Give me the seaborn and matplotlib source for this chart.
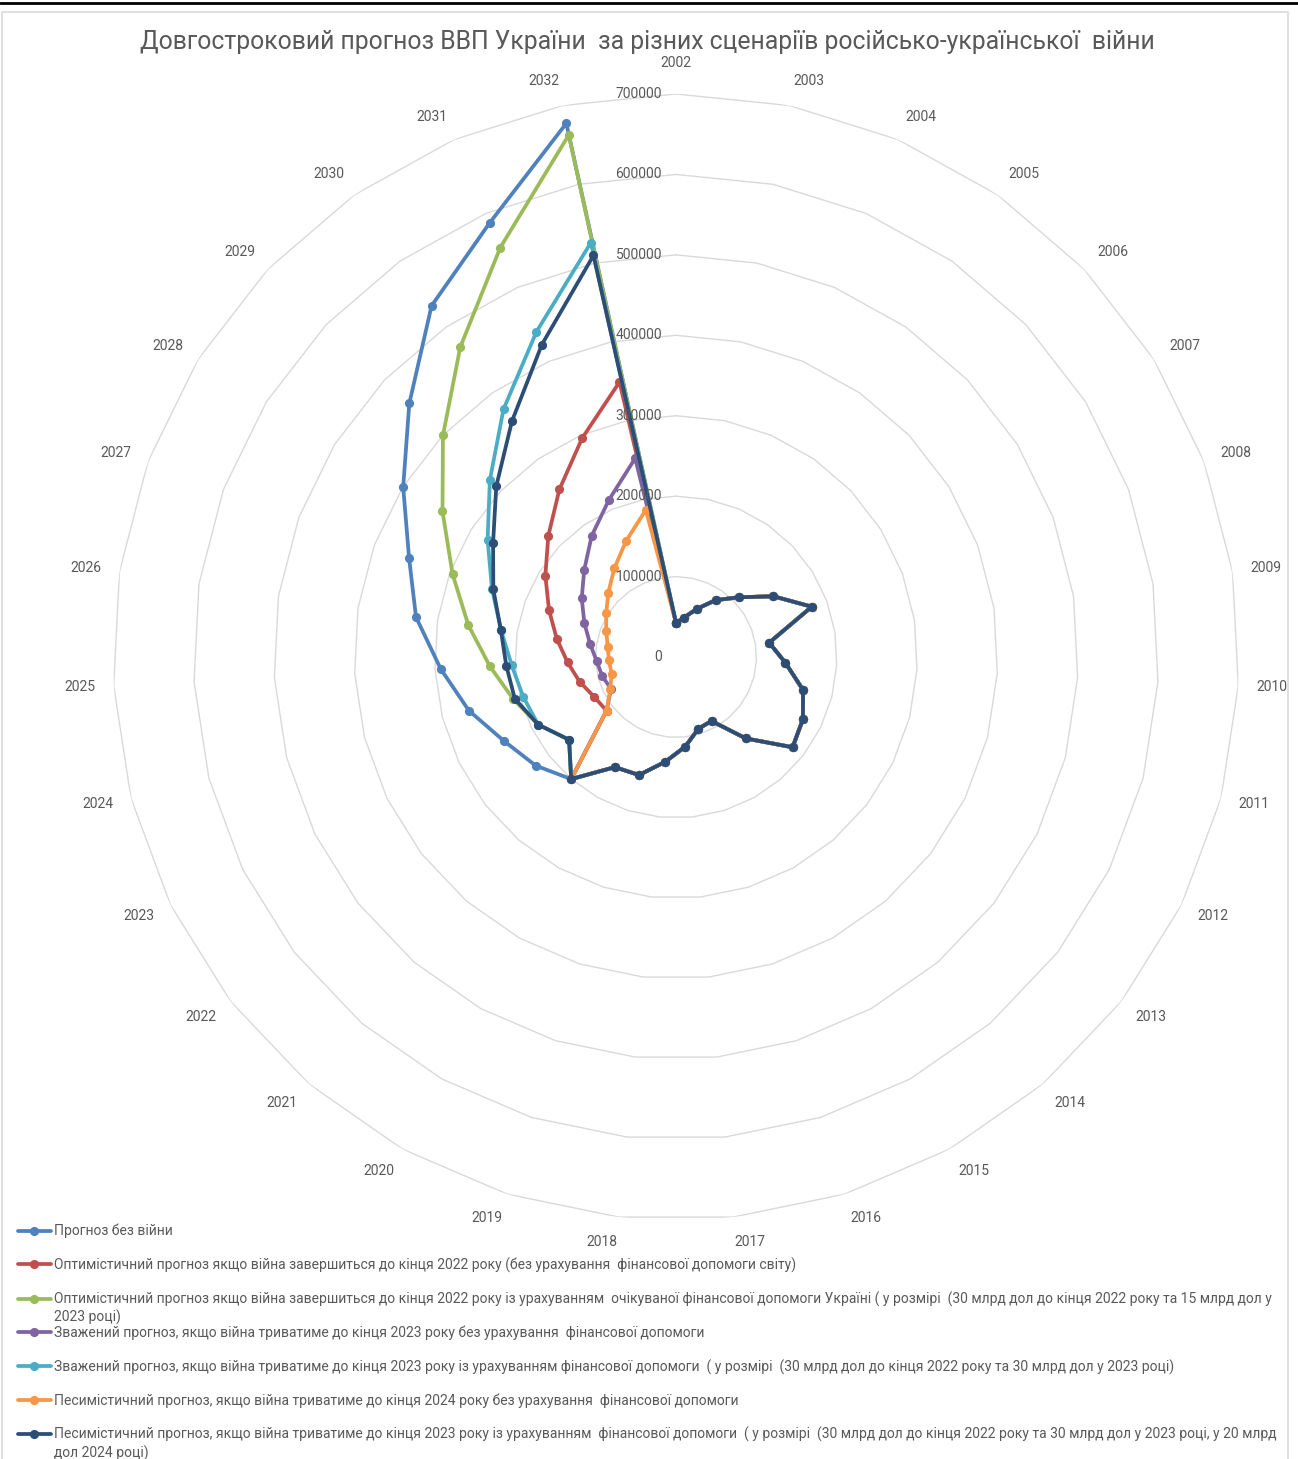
import numpy as np
import pandas as pd
import matplotlib
matplotlib.use("Agg")
import matplotlib.pyplot as plt
import matplotlib.transforms as mtransforms
from matplotlib.lines import Line2D
import seaborn as sns

# ---------------- data ----------------
years = [str(y) for y in range(2002, 2033)]

history = [42393, 50133, 64883, 86142, 107753, 142719, 179992, 117228, 136011,
           163160, 175781, 183310, 133503, 91031, 93356, 112154, 130891, 153781,
           156618, 200086]

no_war = [220600, 237800, 266000, 292900, 327000, 353900, 399700, 457500, 532000, 587400, 677400]
optimistic = [109200, 113000, 123600, 134900, 150000, 168400, 191400, 219000, 253800, 296000, 349000]
optimistic_aid = [168100, 190900, 209000, 231600, 261200, 296200, 342100, 399800, 469500, 554000, 662500]
weighted = [109200, 90000, 94800, 98800, 108100, 121500, 138100, 157400, 183500, 212100, 252200]
weighted_aid = [168100, 190900, 196300, 204500, 220000, 244000, 276000, 319300, 375400, 440000, 525900]
pessimistic = [109200, 91000, 82700, 83500, 85900, 92500, 102300, 116100, 134300, 157200, 186600]
pessimistic_aid = [168100, 190900, 207000, 211300, 220300, 242200, 268000, 308300, 357100, 422800, 509700]

series_names = [
    "Прогноз без війни",
    "Оптимістичний прогноз якщо війна завершиться до кінця 2022 року (без урахування  фінансової допомоги світу)",
    "Оптимістичний прогноз якщо війна завершиться до кінця 2022 року із урахуванням  очікуваної фінансової допомоги Україні ( у розмірі  (30 млрд дол до кінця 2022 року та 15 млрд дол у",
    "Зважений прогноз, якщо війна триватиме до кінця 2023 року без урахування  фінансової допомоги",
    "Зважений прогноз, якщо війна триватиме до кінця 2023 року із урахуванням фінансової допомоги  ( у розмірі  (30 млрд дол до кінця 2022 року та 30 млрд дол у 2023 році)",
    "Песимістичний прогноз, якщо війна триватиме до кінця 2024 року без урахування  фінансової допомоги",
    "Песимістичний прогноз, якщо війна триватиме до кінця 2023 року із урахуванням  фінансової допомоги  ( у розмірі  (30 млрд дол до кінця 2022 року та 30 млрд дол у 2023 році, у 20 млрд",
]
continuations = {2: "2023 році)", 6: "дол 2024 році)"}
forecasts = [no_war, optimistic, optimistic_aid, weighted, weighted_aid, pessimistic, pessimistic_aid]
colors = ["#4F81BD", "#C0504D", "#9BBB59", "#8064A2", "#4BACC6", "#F79646", "#2C4D75"]

radial_ticks = [0, 100000, 200000, 300000, 400000, 500000, 600000, 700000]
title = "Довгостроковий прогноз ВВП України  за різних сценаріїв російсько-української  війни"

# ---------------- styling ----------------
sns.set_theme(style="white")
plt.rcParams["font.family"] = ["Roboto", "DejaVu Sans"]
TXT = "#595959"

W, H = 1298, 1459
fig = plt.figure(figsize=(W / 100, H / 100), dpi=100)
fig.patch.set_facecolor("white")

cx, cy, R = 676, 657, 563
ax = fig.add_axes([(cx - R) / W, 1 - (cy + R) / H, 2 * R / W, 2 * R / H], projection="polar")
ax.set_theta_zero_location("N")
ax.set_theta_direction(-1)
ax.set_facecolor("none")
ax.grid(False)
ax.spines["polar"].set_visible(False)
ax.set_xticks([])
ax.set_yticks([])
rmax = radial_ticks[-1]
ax.set_ylim(0, rmax)

n = len(years)
angles = [2 * np.pi * i / n for i in range(n)]
closed = angles + [2 * np.pi]

# polygon gridlines
for r in radial_ticks[1:]:
    ax.plot(closed, [r] * (n + 1), color="#d9d9d9", lw=1.0, zorder=1)
n_grid = len(ax.get_lines())

# long-form data
rows = []
for name, fc in zip(series_names, forecasts):
    vals = history + fc
    vals = vals + [vals[0]]
    for k, (t, v) in enumerate(zip(closed, vals)):
        rows.append({"series": name, "theta": t, "value": v, "order": k})
df = pd.DataFrame(rows)

sns.lineplot(data=df, x="theta", y="value", hue="series", hue_order=series_names,
             palette=dict(zip(series_names, colors)), estimator=None, sort=False,
             marker="o", markersize=6.6, markeredgewidth=0, linewidth=2.7,
             legend=False, ax=ax, zorder=3)
ax.set_xlabel("")
ax.set_ylabel("")
ax.set_ylim(0, rmax)

# category labels (anchored by nearest corner, as in Excel)
r_lab = rmax * 581 / R
for t, y in zip(angles, years):
    s, c = np.sin(t), np.cos(t)
    ha = "center" if abs(s) < 0.02 else ("left" if s > 0 else "right")
    extra = 6 if abs(s) < 0.02 else 0
    off_l = mtransforms.ScaledTranslation(0, (c * 7 + extra) / 100, fig.dpi_scale_trans)
    ax.text(t, r_lab, y, ha=ha, va="center", fontsize=10, color=TXT,
            transform=ax.transData + off_l)

# radial tick labels
off = mtransforms.ScaledTranslation(-14 / 100, 0, fig.dpi_scale_trans)
for r in radial_ticks:
    ax.text(0, r, str(r), ha="right", va="center", fontsize=10, color=TXT,
            transform=ax.transData + off)

# title
fig.text(647 / W, 1 - 42 / H, title, ha="center", va="center", fontsize=17.8, color=TXT)

# frame decorations
fig.add_artist(Line2D([0, 1], [1 - 3 / H, 1 - 3 / H], color="black", lw=2.0, transform=fig.transFigure))
fig.add_artist(Line2D([1.5 / W, 1.5 / W, 1288 / W, 1288 / W], [0, 1 - 12 / H, 1 - 12 / H, 0],
                      color="#d9d9d9", lw=1.2, transform=fig.transFigure))

# legend
FS = 10.0
handles = ax.get_lines()[n_grid:n_grid + len(series_names)]
leg = fig.legend(handles, series_names, loc="upper left",
                 bbox_to_anchor=(18 / W, 1 - 1224 / H), frameon=False,
                 fontsize=FS, labelspacing=1.36, handlelength=2.35,
                 handletextpad=0.22, borderpad=0, borderaxespad=0)
for t in leg.get_texts():
    t.set_color(TXT)

fig.canvas.draw()
renderer = fig.canvas.get_renderer()
for idx, cont in continuations.items():
    bb = leg.get_texts()[idx].get_window_extent(renderer)
    fig.text(bb.x0 / W, (bb.y0 - 3) / H, cont, ha="left", va="top", fontsize=FS, color=TXT)

fig.savefig("out.png", dpi=100, facecolor="white")
